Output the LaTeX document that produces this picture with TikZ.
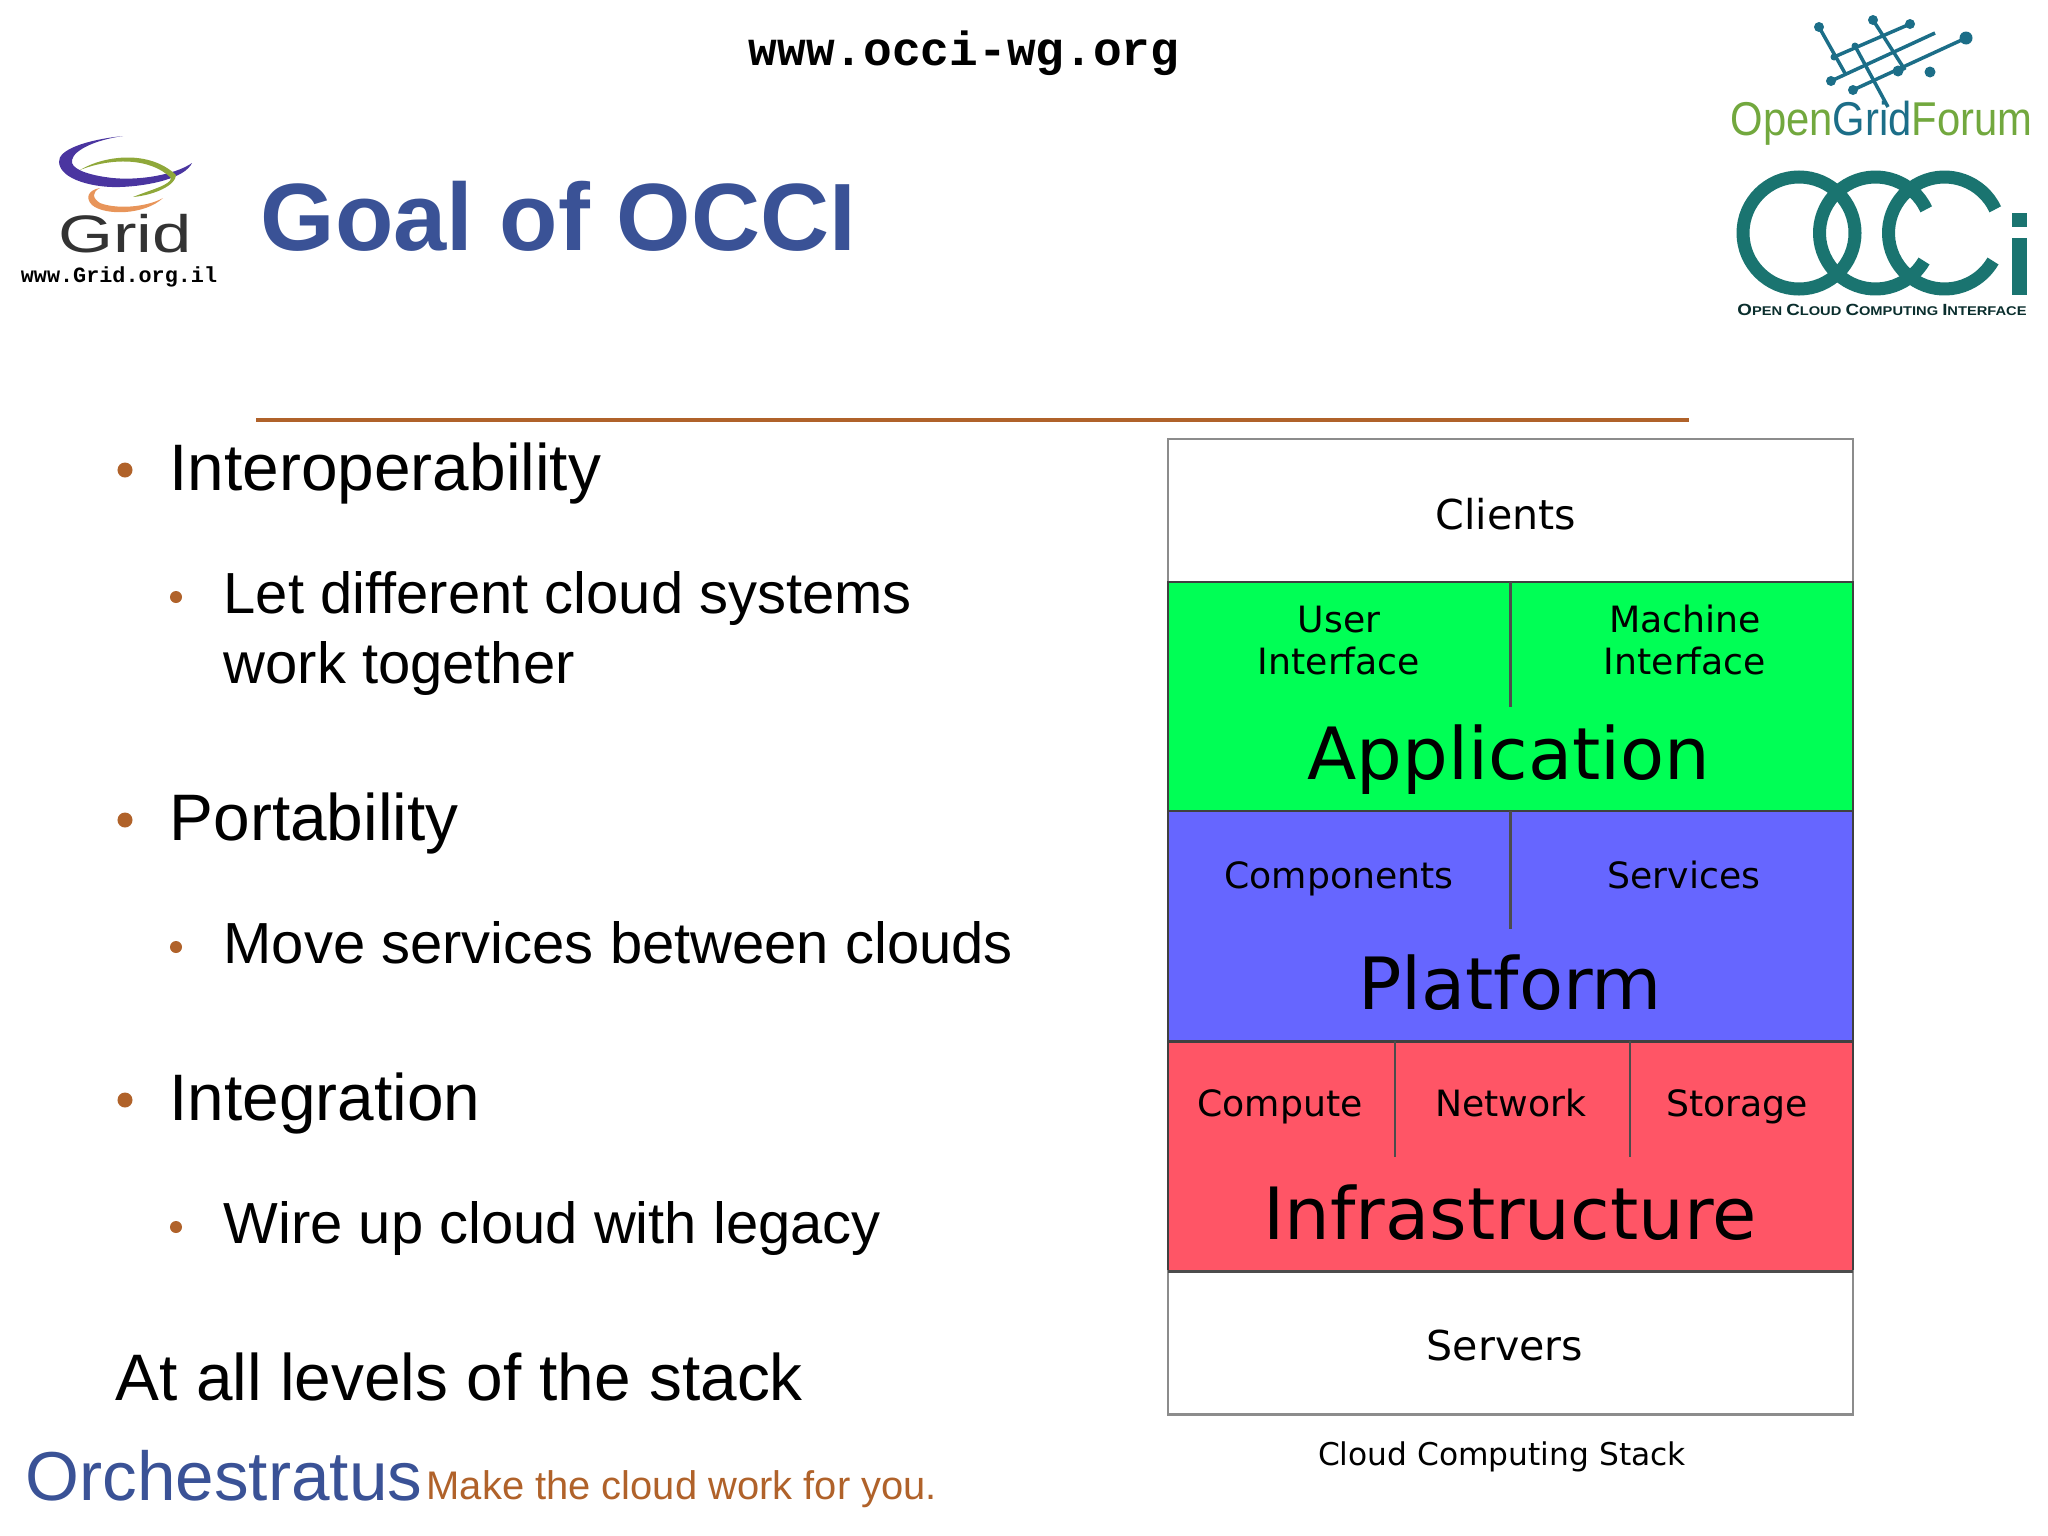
\documentclass[tikz,border=0pt]{standalone}
\usepackage{fontspec}
\usepackage{xcolor}
\setmainfont{Liberation Sans}
\newfontfamily\stackfont{DejaVu Sans}
\newfontfamily\monofont{Liberation Mono}
\usetikzlibrary{positioning, calc}
\definecolor{slideblue}{HTML}{3A5296}
\definecolor{slideorange}{HTML}{B0622A}
\definecolor{appgreen}{HTML}{00FF55}
\definecolor{platblue}{HTML}{6666FF}
\definecolor{infrared}{HTML}{FF5566}
\definecolor{occiteal}{HTML}{1A7470}
\definecolor{ogfgreen}{HTML}{72A83E}
\definecolor{ogfblue}{HTML}{1C6E88}
\definecolor{gridpurple}{HTML}{4A35A0}
\definecolor{gridgreen}{HTML}{8FA83A}
\definecolor{gridorange}{HTML}{E8955A}
\newcommand{\fsize}[1]{\fontsize{#1}{#1}\selectfont}
\newcommand{\capletter}[1]{{\fsize{4.6}#1}}
\tikzset{
    headtext/.style={anchor=base west, inner sep=0pt, font=\fsize{18.7}},
    subtext/.style={anchor=base west, inner sep=0pt, font=\fsize{16.48}},
    bulletdot/.style={circle, fill=slideorange, inner sep=0pt, minimum size=#1},
    layer/.style={draw=black!75, line width=0.7pt, minimum width=6.85cm, inner sep=0pt, outer sep=0pt},
    bigtext/.style={anchor=base, inner sep=0pt, font=\stackfont\fsize{20.5}},
    smalltext/.style={anchor=base, inner sep=0pt, font=\stackfont\fsize{10.3}},
    divider/.style={draw=black!70, line width=0.6pt},
    occiring/.style={draw=occiteal, line width=0.13cm},
    ogfline/.style={draw=ogfblue, line width=0.035cm},
}
\begin{document}
\begin{tikzpicture}[x=0.01cm, y=-0.01cm]
\useasboundingbox (0,0) rectangle (2048,1536);

% Header
\node[anchor=base, inner sep=0pt, font=\monofont\bfseries\fsize{13.6}] (site) at (964,65) {www.occi-wg.org};
\node[anchor=base west, inner sep=0pt, text=slideblue, font=\bfseries\fsize{27.2}] (title) at (260,250) {Goal of OCCI};
\coordinate (ruleleft) at (256,420);
\coordinate (ruleright) at (1689,420);
\draw[slideorange, line width=0.035cm] (ruleleft) -- (ruleright);

% Grid logo (left)
\fill[gridpurple] (123,136) .. controls (85,140) and (58,150) .. (59,162)
    .. controls (60,180) and (95,188) .. (120,187) .. controls (150,186) and (185,178) .. (192,163)
    .. controls (175,175) and (135,182) .. (105,177) .. controls (85,174) and (70,168) .. (72,160)
    .. controls (74,150) and (95,140) .. (123,136) -- cycle;
\fill[gridgreen] (80,170) .. controls (105,155) and (150,150) .. (176,175)
    .. controls (176,185) and (155,195) .. (133,197) .. controls (150,190) and (171,185) .. (171,178)
    .. controls (150,157) and (110,158) .. (80,170) -- cycle;
\fill[gridorange] (100,188) .. controls (88,190) and (85,198) .. (92,205)
    .. controls (105,216) and (145,215) .. (163,198) .. controls (145,208) and (115,209) .. (100,203)
    .. controls (92,198) and (92,192) .. (100,188) -- cycle;
\node[anchor=base, inner sep=0pt, text=black!80, xscale=1.34, font=\fsize{15}] (gridname) at (125,252) {Grid};
\node[anchor=base, inner sep=0pt, font=\monofont\bfseries\fsize{6.2}] (gridsite) at (119,282) {www.Grid.org.il};

% Open Grid Forum logo (right)
\foreach \a/\b in {1819/27, 1853/90, 1831/81, 1873/20, 1910/24}
    \fill[ogfblue] (\a,\b) circle (5);
\fill[ogfblue] (1966,38) circle (6.5);
\fill[ogfblue] (1930,72) circle (5.5);
\fill[ogfblue] (1898,71) circle (5.5);
\fill[ogfblue] (1834,57) circle (3.5);
\fill[ogfblue] (1855,46) circle (3.5);
\draw[ogfline] (1819,27) -- (1846,75);
\draw[ogfline] (1873,20) -- (1905,70);
\draw[ogfline] (1855,46) -- (1888,107);
\draw[ogfline] (1834,57) -- (1910,24);
\draw[ogfline] (1831,81) -- (1935,33);
\draw[ogfline] (1853,90) -- (1966,38);
\node[anchor=base west, inner sep=0pt, xscale=0.88, font=\fsize{13.5}] (ogfname) at (1730,135) {\textcolor{ogfgreen}{Open}\textcolor{ogfblue}{Grid}\textcolor{ogfgreen}{Forum}};

% OCCI logo (right)
\draw[occiring] (1799,233) circle (56);
\draw[occiring] (1875.5,233) ++(-25:56) arc[start angle=-25, end angle=-330, radius=56];
\draw[occiring] (1944.5,233) ++(-25:56) arc[start angle=-25, end angle=-330, radius=56];
\fill[occiteal] (2012,213) rectangle (2027,227);
\fill[occiteal] (2012,238) rectangle (2027,295);
\node[anchor=base, inner sep=0pt, text=black!60!occiteal, xscale=1.16, font=\bfseries\fsize{3.6}] (occiname) at (1882,315) {\capletter{O}PEN \capletter{C}LOUD \capletter{C}OMPUTING \capletter{I}NTERFACE};

% Bullet text
\foreach \ypos/\name/\txt in {490/interop/Interoperability, 840/port/Portability, 1120/integ/Integration} {
    \node[headtext] (\name) at (169,\ypos) {\txt};
    \node[bulletdot=0.15cm] (\name dot) at (125,\ypos-20) {};
}
\foreach \ypos/\name/\txt in {613/letdiff/Let different cloud systems, 963/move/Move services between clouds, 1243/wire/Wire up cloud with legacy} {
    \node[subtext] (\name) at (223,\ypos) {\txt};
    \node[bulletdot=0.12cm] (\name dot) at (176,\ypos-16) {};
}
\node[subtext] (worktog) at (223,683) {work together};
\node[headtext] (atall) at (115,1400) {At all levels of the stack};

% Footer
\node[anchor=base west, inner sep=0pt, text=slideblue, font=\fsize{19.7}] (orch) at (25,1500) {Orchestratus};
\node[anchor=base west, inner sep=0pt, text=slideorange, font=\fsize{11.35}] (tagline) at (426,1499) {Make the cloud work for you.};

% Stack layers
\node[layer, fill=white, draw=black!45, minimum height=1.43cm, anchor=north] (clients) at (1510.5,439) {};
\node[layer, fill=appgreen, minimum height=2.29cm, below=0pt of clients] (appl) {};
\node[layer, fill=platblue, minimum height=2.30cm, below=0pt of appl] (plat) {};
\node[layer, fill=infrared, minimum height=2.30cm, below=0pt of plat] (infra) {};
\node[layer, fill=white, draw=black!45, minimum height=1.43cm, below=0pt of infra] (servers) {};
\draw[divider] (servers.north west) -- (servers.north east);

% Dividers
\coordinate (applend) at (1510.5,707);
\coordinate (platend) at (1510.5,929);
\coordinate (compend) at (1395,1157);
\coordinate (storend) at (1630,1157);
\draw[divider] (appl.north) -- (applend);
\draw[divider] (plat.north) -- (platend);
\draw[divider] (compend |- infra.north) -- (compend);
\draw[divider] (storend |- infra.north) -- (storend);

% Stack labels
\node[anchor=base, inner sep=0pt, font=\stackfont\fsize{11.7}] (clientstxt) at (1506,529) {Clients};
\node[smalltext] (usertxt) at (1339,632) {User};
\node[smalltext] (userif) at (1339,674) {Interface};
\node[smalltext] (machtxt) at (1685,632) {Machine};
\node[smalltext] (machif) at (1685,674) {Interface};
\node[bigtext] (appltxt) at (1509,779) {Application};
\node[smalltext] (comptxt) at (1339,888) {Components};
\node[smalltext] (servtxt) at (1684,888) {Services};
\node[bigtext] (plattxt) at (1510,1009) {Platform};
\node[smalltext] (computetxt) at (1280,1116) {Compute};
\node[smalltext] (nettxt) at (1511,1116) {Network};
\node[smalltext] (stortxt) at (1737,1116) {Storage};
\node[bigtext] (infratxt) at (1510,1239) {Infrastructure};
\node[anchor=base, inner sep=0pt, font=\stackfont\fsize{11.7}] (servtext) at (1505,1360) {Servers};
\node[anchor=base, inner sep=0pt, font=\stackfont\fsize{8.9}] (caption) at (1502,1465) {Cloud Computing Stack};
\end{tikzpicture}
\end{document}
